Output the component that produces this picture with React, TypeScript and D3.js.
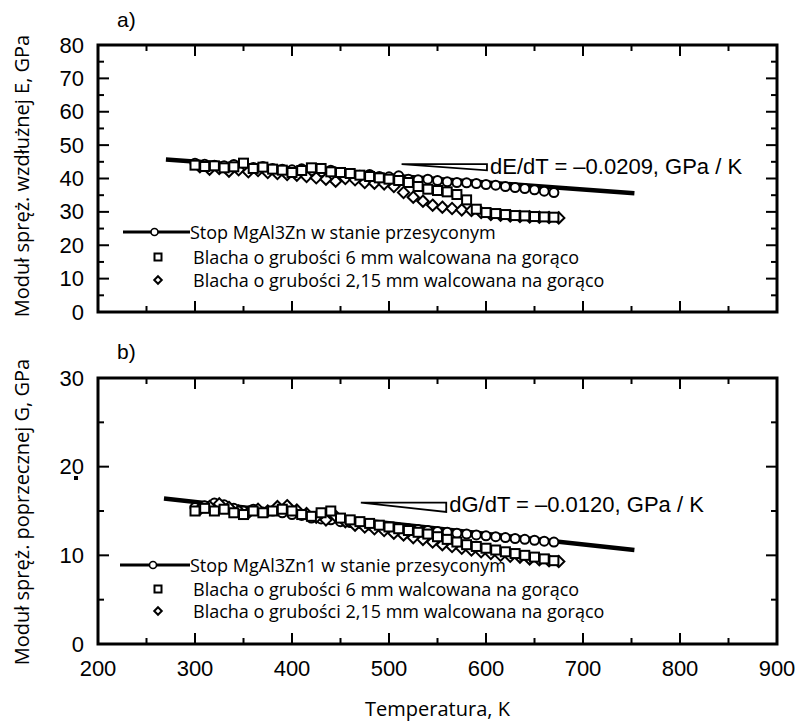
import React from 'react';
import * as d3 from 'd3';

// ---------- DATA ----------
// Panel a) Young's modulus E [GPa]
const tempA_stop = [300,310,320,330,340,350,360,370,380,390,400,410,420,430,440,450,460,470,480,490,500,510,520,530,540,550,560,570,580,590,600,610,620,630,640,650,660,670];
const eA_stop = [44.6,44.3,44.0,43.8,44.2,43.5,43.3,43.6,43.0,42.8,42.6,42.9,42.3,42.0,42.5,41.6,41.3,41.0,41.2,40.6,40.5,40.8,39.8,39.6,39.8,39.4,39.0,38.8,38.7,38.5,38.2,38.0,37.6,37.3,37.0,36.6,36.2,35.8];
const tempA_6mm = [300,310,320,330,340,350,360,370,380,390,400,410,420,430,440,450,460,470,480,490,500,510,520,530,540,550,560,570,580,590,600,610,620,630,640,650,660,670];
const eA_6mm = [44.0,43.6,43.8,43.2,43.5,44.6,43.0,43.4,42.8,42.5,41.8,42.4,43.2,43.0,42.0,41.8,41.5,41.0,40.6,40.2,39.8,39.4,38.8,37.6,36.8,36.4,36.0,35.2,33.6,30.8,29.8,29.5,29.2,28.9,28.8,28.6,28.5,28.4];
const tempA_215 = [305,315,325,335,345,355,365,375,385,395,405,415,425,435,445,455,465,475,485,495,505,515,525,535,545,555,565,575,585,595,605,615,625,635,645,655,665,675];
const eA_215 = [43.5,42.8,43.0,42.2,42.6,42.0,42.4,41.8,41.5,41.2,41.0,40.6,40.2,39.8,39.2,40.0,39.6,38.8,38.6,38.4,37.6,35.8,34.4,33.2,32.0,31.4,31.0,30.6,30.4,29.8,29.2,29.0,28.8,28.6,28.5,28.4,28.3,28.2];
const fitA_T = [270, 753];
const fitA_E = [45.7, 35.6];
const slopeA = -0.0209;
const triA_T = [513, 601];
const triA_top = 44.3;

// Panel b) Shear modulus G [GPa]
const tempB_stop = [300,310,320,330,340,350,360,370,380,390,400,410,420,430,440,450,460,470,480,490,500,510,520,530,540,550,560,570,580,590,600,610,620,630,640,650,660,670];
const gB_stop = [15.4,15.6,15.9,15.7,15.3,15.0,15.2,14.9,15.0,14.8,14.6,14.5,14.2,14.1,14.0,13.8,13.7,13.6,13.4,13.3,13.2,13.1,13.0,12.9,12.8,12.7,12.6,12.5,12.4,12.3,12.2,12.1,12.0,11.9,11.8,11.7,11.6,11.5];
const tempB_6mm = [300,310,320,330,340,350,360,370,380,390,400,410,420,430,440,450,460,470,480,490,500,510,520,530,540,550,560,570,580,590,600,610,620,630,640,650,660,670];
const gB_6mm = [15.0,15.3,15.0,15.2,14.8,14.6,15.0,14.8,15.0,15.2,15.0,14.6,14.4,14.8,15.0,14.2,14.0,13.8,13.6,13.4,13.2,13.0,12.8,12.6,12.4,12.1,11.8,11.5,11.2,11.0,10.8,10.6,10.4,10.2,10.0,9.8,9.6,9.4];
const tempB_215 = [305,315,325,335,345,355,365,375,385,395,405,415,425,435,445,455,465,475,485,495,505,515,525,535,545,555,565,575,585,595,605,615,625,635,645,655,665,675];
const gB_215 = [15.2,15.5,15.8,15.4,15.0,14.8,15.2,15.0,15.5,15.6,15.1,14.7,14.3,14.0,14.4,13.8,13.4,13.2,13.0,12.8,12.5,12.3,12.0,11.8,11.5,11.2,11.0,10.8,10.6,10.4,10.2,10.0,9.9,9.8,9.6,9.5,9.4,9.3];
const fitB_T = [268, 753];
const fitB_G = [16.4, 10.6];
const slopeB = -0.0120;
const triB_T = [471, 559];
const triB_top = 15.95;

const xTickValues = [200, 300, 400, 500, 600, 700, 800, 900];
const yTicksA = [0, 10, 20, 30, 40, 50, 60, 70, 80];
const yTicksB = [0, 10, 20, 30];

const legendA = ['Stop MgAl3Zn w stanie przesyconym', 'Blacha o grubości 6 mm walcowana na gorąco', 'Blacha o grubości 2,15 mm walcowana na gorąco'];
const legendB = ['Stop MgAl3Zn1 w stanie przesyconym', 'Blacha o grubości 6 mm walcowana na gorąco', 'Blacha o grubości 2,15 mm walcowana na gorąco'];

// ---------- LAYOUT ----------
const W = 798, H = 724;
const X0 = 98, X1 = 777;
const x = d3.scaleLinear().domain([200, 900]).range([X0, X1]);
const yA = d3.scaleLinear().domain([0, 80]).range([312, 45]);
const yB = d3.scaleLinear().domain([0, 30]).range([644, 378]);

const NUM_FONT = "'Liberation Sans', Arial, Helvetica, sans-serif";
const TXT_FONT = "'Open Sans', 'Noto Sans', sans-serif";

type MType = 'circle' | 'square' | 'diamond';

function Marker({ t, cx, cy, s, sw }: { t: MType; cx: number; cy: number; s: number; sw: number }) {
  if (t === 'circle') return <circle cx={cx} cy={cy} r={s} fill="#fff" stroke="#000" strokeWidth={sw} />;
  if (t === 'square') return <rect x={cx - s} y={cy - s} width={2 * s} height={2 * s} fill="#fff" stroke="#000" strokeWidth={sw} />;
  const d = s * 1.25;
  return <path d={`M${cx},${cy - d}L${cx + d},${cy}L${cx},${cy + d}L${cx - d},${cy}Z`} fill="#fff" stroke="#000" strokeWidth={sw} />;
}

function Panel({ y, yTicks, minorStep, showXLabels, series, fitT, fitV, slope, triT, triTop, slopeText, legend, legendRows, legendLine, label, labelY }: any) {
  const [yMin, yMax] = y.domain();
  const top = y(yMax), bottom = y(yMin);
  const minorY = d3.range(yMin, yMax + 0.001, minorStep).filter((v: number) => !yTicks.includes(v));
  const minorX = d3.range(250, 900, 100);
  const line = d3.line<number>().x((_, i) => x(fitT[i])).y((v) => y(v));
  const t0 = triT[0], t1 = triT[1];
  const triBottom = triTop + slope * (t1 - t0);
  const triPath = `M${x(t0)},${y(triTop)}L${x(t1)},${y(triTop)}L${x(t1)},${y(triBottom)}Z`;
  const MAJ = 11, MIN = 6;
  return (
    <g>
      <text x={117} y={labelY} fontFamily={NUM_FONT} fontSize={21} dominantBaseline="central">{label}</text>
      {yTicks.map((v: number) => (
        <g key={'ym' + v}>
          <line x1={X0} x2={X0 + MAJ} y1={y(v)} y2={y(v)} stroke="#000" strokeWidth={2} />
          <line x1={X1} x2={X1 - MAJ} y1={y(v)} y2={y(v)} stroke="#000" strokeWidth={2} />
          <text x={84} y={y(v)} textAnchor="end" dominantBaseline="central" fontFamily={NUM_FONT} fontSize={22}>{v}</text>
        </g>
      ))}
      {minorY.map((v: number) => (
        <g key={'yn' + v}>
          <line x1={X0} x2={X0 + MIN} y1={y(v)} y2={y(v)} stroke="#000" strokeWidth={2} />
          <line x1={X1} x2={X1 - MIN} y1={y(v)} y2={y(v)} stroke="#000" strokeWidth={2} />
        </g>
      ))}
      {xTickValues.map((v) => (
        <g key={'xm' + v}>
          <line x1={x(v)} x2={x(v)} y1={bottom} y2={bottom - MAJ} stroke="#000" strokeWidth={2} />
          <line x1={x(v)} x2={x(v)} y1={top} y2={top + MAJ} stroke="#000" strokeWidth={2} />
          {showXLabels && (
            <text x={x(v)} y={bottom + 24} textAnchor="middle" dominantBaseline="central" fontFamily={NUM_FONT} fontSize={22}>{v}</text>
          )}
        </g>
      ))}
      {minorX.map((v: number) => (
        <g key={'xn' + v}>
          <line x1={x(v)} x2={x(v)} y1={bottom} y2={bottom - MIN} stroke="#000" strokeWidth={2} />
          <line x1={x(v)} x2={x(v)} y1={top} y2={top + MIN} stroke="#000" strokeWidth={2} />
        </g>
      ))}
      <path d={line(fitV) || ''} fill="none" stroke="#000" strokeWidth={4.5} />
      <path d={triPath} fill="#fff" stroke="#000" strokeWidth={1.8} strokeLinejoin="miter" />
      <text x={x(t1) + 3} y={y(triTop) + 2} dominantBaseline="central" fontFamily={NUM_FONT} fontSize={22}>{slopeText}</text>
      {series.map((s: any) => s.t.map((tv: number, i: number) => (
        <Marker key={s.type + i} t={s.type} cx={x(tv)} cy={y(s.v[i])} s={4.5} sw={2} />
      )))}
      <rect x={X0} y={top} width={X1 - X0} height={bottom - top} fill="none" stroke="#000" strokeWidth={3} />
      <line x1={legendLine[0]} x2={legendLine[1]} y1={legendRows[0]} y2={legendRows[0]} stroke="#000" strokeWidth={3} />
      <Marker t="circle" cx={(legendLine[0] + legendLine[1]) / 2 - 2} cy={legendRows[0]} s={3.5} sw={1.6} />
      <Marker t="square" cx={158} cy={legendRows[1]} s={3.5} sw={2} />
      <Marker t="diamond" cx={158} cy={legendRows[2]} s={3} sw={2} />
      {legend.map((txt: string, i: number) => (
        <text key={i} x={i === 0 ? legendLine[1] : 193} y={legendRows[i]} dominantBaseline="central" fontFamily={TXT_FONT} fontSize={18}>{txt}</text>
      ))}
    </g>
  );
}

export default function App() {
  return (
    <svg width={W} height={H} viewBox={`0 0 ${W} ${H}`} style={{ position: 'absolute', left: 0, top: 0, background: '#fff' }}>
      <rect x={0} y={0} width={W} height={H} fill="#fff" />
      <Panel
        y={yA} yTicks={yTicksA} minorStep={5} showXLabels={false}
        series={[
          { type: 'circle', t: tempA_stop, v: eA_stop },
          { type: 'diamond', t: tempA_215, v: eA_215 },
          { type: 'square', t: tempA_6mm, v: eA_6mm },
        ]}
        fitT={fitA_T} fitV={fitA_E} slope={slopeA} triT={triA_T} triTop={triA_top}
        slopeText="dE/dT = –0.0209, GPa / K"
        legend={legendA} legendRows={[232, 257, 280]} legendLine={[123, 190]}
        label="a)" labelY={19}
      />
      <Panel
        y={yB} yTicks={yTicksB} minorStep={5} showXLabels={true}
        series={[
          { type: 'circle', t: tempB_stop, v: gB_stop },
          { type: 'diamond', t: tempB_215, v: gB_215 },
          { type: 'square', t: tempB_6mm, v: gB_6mm },
        ]}
        fitT={fitB_T} fitV={fitB_G} slope={slopeB} triT={triB_T} triTop={triB_top}
        slopeText="dG/dT = –0.0120, GPa / K"
        legend={legendB} legendRows={[565, 589, 611]} legendLine={[120, 190]}
        label="b)" labelY={351}
      />
      <rect x={74} y={476} width={4} height={4} fill="#000" />
      <text transform="translate(21,176) rotate(-90)" textAnchor="middle" dominantBaseline="central" fontFamily={TXT_FONT} fontSize={20}>Moduł spręż. wzdłużnej E, GPa</text>
      <text transform="translate(21,512) rotate(-90)" textAnchor="middle" dominantBaseline="central" fontFamily={TXT_FONT} fontSize={20}>Moduł spręż. poprzecznej G, GPa</text>
      <text x={(X0 + X1) / 2} y={708} textAnchor="middle" dominantBaseline="central" fontFamily={TXT_FONT} fontSize={20}>Temperatura, K</text>
    </svg>
  );
}
